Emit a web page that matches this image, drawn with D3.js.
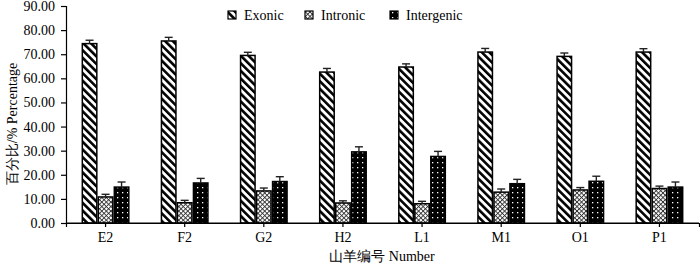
<!DOCTYPE html>
<html><head><meta charset="utf-8">
<script src="https://cdn.jsdelivr.net/npm/d3@7"></script>
<style>body{margin:0;background:#fff}svg{display:block}text{font-family:"Liberation Serif","DejaVu Serif",serif;fill:#000}</style>
</head><body><div id="chart"></div>
<script>
const categories = ["E2","F2","G2","H2","L1","M1","O1","P1"];
const seriesNames = ["Exonic","Intronic","Intergenic"];
const exonic = [74.4,75.5,69.5,62.6,64.7,70.9,69.1,70.9];
const exonicErr = [1.4,1.5,1.3,1.5,1.3,1.5,1.4,1.4];
const intronic = [10.8,8.4,13.3,8.3,8.0,12.8,13.7,14.3];
const intronicErr = [1.1,1.0,1.2,0.9,1.0,1.3,1.0,1.0];
const intergenic = [14.9,16.6,17.2,29.5,27.6,16.3,17.3,14.9];
const intergenicErr = [2.1,1.9,2.0,2.1,2.1,1.8,2.1,2.1];
const yTicks = [0,10,20,30,40,50,60,70,80,90];

const W=700,H=266;
const FONT='"Liberation Serif","DejaVu Serif",serif';
const svg=d3.select("#chart").append("svg").attr("width",W).attr("height",H);
const defs=svg.append("defs");
const p1=defs.append("pattern").attr("id","pExonic").attr("patternUnits","userSpaceOnUse")
  .attr("width",5.4).attr("height",5.4).attr("patternTransform","rotate(-45)");
p1.append("rect").attr("width",5.4).attr("height",5.4).attr("fill","#fff");
p1.append("rect").attr("width",2.6).attr("height",5.4).attr("fill","#000");
const p2=defs.append("pattern").attr("id","pIntronic").attr("patternUnits","userSpaceOnUse")
  .attr("width",3.2).attr("height",3.2).attr("patternTransform","rotate(45)");
p2.append("rect").attr("width",3.2).attr("height",3.2).attr("fill","#fff");
p2.append("rect").attr("width",0.9).attr("height",3.2).attr("fill","#333");
p2.append("rect").attr("width",3.2).attr("height",0.9).attr("fill","#333");
const p3=defs.append("pattern").attr("id","pIntergenic").attr("patternUnits","userSpaceOnUse")
  .attr("width",5).attr("height",5);
p3.append("rect").attr("width",5).attr("height",5).attr("fill","#000");
p3.append("rect").attr("x",2).attr("y",2).attr("width",1.3).attr("height",1.3).attr("fill","#fff");
const fills=["url(#pExonic)","url(#pIntronic)","url(#pIntergenic)"];

const x=d3.scaleBand().domain(categories).range([66,699]).padding(0);
const inner=d3.scaleBand().domain(seriesNames).range([0,48]);
const y=d3.scaleLinear().domain([0,90]).range([223,6]);

const vals=[exonic,intronic,intergenic], errs=[exonicErr,intronicErr,intergenicErr];
const xoff=(x.bandwidth()-48)/2;

const ya=svg.append("g").attr("transform","translate(66,0)")
  .call(d3.axisLeft(y).tickValues(yTicks).tickFormat(d3.format(".2f")).tickSize(5).tickPadding(6));
ya.attr("font-family",FONT).attr("font-size",14);
ya.select(".domain").attr("stroke","#000").attr("stroke-width",1.2);
ya.selectAll(".tick line").attr("stroke","#000").attr("stroke-width",1.2);
ya.selectAll("text").attr("fill","#000");

const xa=svg.append("g").attr("transform","translate(0,223)")
  .call(d3.axisBottom(x).tickSize(4).tickSizeOuter(4).tickPadding(5));
xa.attr("font-family",FONT).attr("font-size",14);
xa.select(".domain").attr("stroke","#000").attr("stroke-width",1.2);
xa.selectAll(".tick line").attr("stroke","#000").attr("stroke-width",1.2);
xa.selectAll("text").attr("fill","#000");

seriesNames.forEach((s,si)=>{
  const g=svg.append("g");
  g.selectAll("rect").data(categories).join("rect")
    .attr("x",c=>x(c)+xoff+inner(s)+0.75)
    .attr("y",(c,i)=>y(vals[si][i]))
    .attr("width",inner.bandwidth()-1.5)
    .attr("height",(c,i)=>y(0)-y(vals[si][i]))
    .attr("fill",fills[si]).attr("stroke","#000").attr("stroke-width",1.5);
  const eg=svg.append("g").attr("stroke","#222").attr("stroke-width",1.4);
  categories.forEach((c,i)=>{
    const cx=x(c)+xoff+inner(s)+inner.bandwidth()/2;
    const t=y(vals[si][i]+errs[si][i]);
    eg.append("line").attr("x1",cx).attr("x2",cx).attr("y1",y(vals[si][i])).attr("y2",t);
    eg.append("line").attr("x1",cx-4).attr("x2",cx+4).attr("y1",t).attr("y2",t);
  });
});
svg.append("line").attr("x1",66).attr("x2",699).attr("y1",223).attr("y2",223).attr("stroke","#000").attr("stroke-width",1.2);

const legX=[228,305,390];
seriesNames.forEach((s,i)=>{
  svg.append("rect").attr("x",legX[i]).attr("y",11).attr("width",8).attr("height",8)
    .attr("fill",fills[i]).attr("stroke","#000").attr("stroke-width",1.2);
  svg.append("text").attr("x",legX[i]+16).attr("y",20).attr("font-family",FONT).attr("font-size",14).text(s);
});

svg.append("text").attr("x",382).attr("y",261).attr("text-anchor","middle").attr("font-family",FONT).attr("font-size",14)
  .text("山羊编号 Number");
svg.append("text").attr("transform","translate(17,124) rotate(-90)").attr("text-anchor","middle")
  .attr("font-family",FONT).attr("font-size",14).text("百分比/% Percentage");
</script></body></html>
